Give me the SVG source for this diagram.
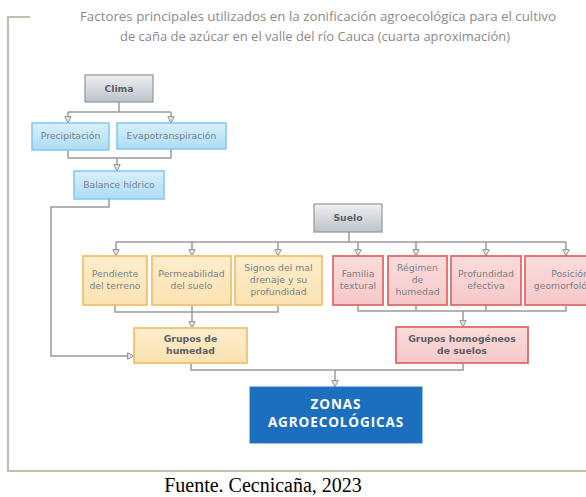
<svg xmlns="http://www.w3.org/2000/svg" width="586" height="497" viewBox="0 0 586 497">
<defs>
<linearGradient id="gGray" x1="0" y1="0" x2="0" y2="1"><stop offset="0" stop-color="#eef0f2"/><stop offset="1" stop-color="#bcc3ca"/></linearGradient>
<linearGradient id="gBlue" x1="0" y1="0" x2="0" y2="1"><stop offset="0" stop-color="#d9f0fc"/><stop offset="1" stop-color="#acdcf4"/></linearGradient>
<linearGradient id="gOrange" x1="0" y1="0" x2="0" y2="1"><stop offset="0" stop-color="#fdeecd"/><stop offset="1" stop-color="#fbe2b0"/></linearGradient>
<linearGradient id="gRed" x1="0" y1="0" x2="0" y2="1"><stop offset="0" stop-color="#fbdcdc"/><stop offset="1" stop-color="#f6c8c8"/></linearGradient>
<marker id="arr" viewBox="0 0 10 10" refX="9" refY="5" markerWidth="8" markerHeight="8" markerUnits="userSpaceOnUse" orient="auto">
<path d="M1,1 L9,5 L1,9 Z" fill="#e4e4e4" stroke="#8e8e8e" stroke-width="1.2"/>
</marker>
<style>
.gray{fill:url(#gGray);stroke:#8f979f;stroke-width:1.2}
.blue{fill:url(#gBlue);stroke:#80c8ee;stroke-width:1.5}
.orange{fill:url(#gOrange);stroke:#f2c070;stroke-width:1.8}
.red{fill:url(#gRed);stroke:#e06a6a;stroke-width:1.8}
.t{font-family:"DejaVu Sans",Verdana,sans-serif;font-size:9.3px;fill:#7a7f85;text-anchor:middle}
.b{font-family:"DejaVu Sans",Verdana,sans-serif;font-size:9.3px;font-weight:bold;fill:#5a5f66;text-anchor:middle}
.c{fill:none;stroke:#9a9a9a;stroke-width:1.5}
.a{fill:none;stroke:#9a9a9a;stroke-width:1.5;marker-end:url(#arr)}
.z{font-family:"Open Sans",sans-serif;font-size:13.5px;font-weight:bold;fill:#ffffff;text-anchor:middle;letter-spacing:0.9px}
</style>
</defs>
<rect width="586" height="497" fill="#ffffff"/>
<g id="frame">
<path d="M30,17 H8 V471 H586" fill="none" stroke="#b7c5a8" stroke-width="2.2"/>
</g>
<g id="title">
<text x="318" y="21" font-family="Open Sans, sans-serif" font-size="13" fill="#8a8a8a" text-anchor="middle" textLength="476" lengthAdjust="spacingAndGlyphs">Factores principales utilizados en la zonificación agroecológica para el cultivo</text>
<text x="315" y="41" font-family="Open Sans, sans-serif" font-size="13" fill="#8a8a8a" text-anchor="middle" textLength="390" lengthAdjust="spacingAndGlyphs">de caña de azúcar en el valle del río Cauca (cuarta aproximación)</text>
</g>
<g id="connectors">
<path class="c" d="M119,102 V112 M68,112 H171"/>
<path class="a" d="M68,112 V123"/>
<path class="a" d="M171,112 V123"/>
<path class="c" d="M68,150 V158 H171 V149"/>
<path class="a" d="M117,158 V171"/>
<path class="a" d="M109,199 V207 H51 V356 H134"/>
<path class="c" d="M349,232 V242 M116,242 H566"/>
<path class="a" d="M116,242 V256"/>
<path class="a" d="M192,242 V256"/>
<path class="a" d="M278,242 V256"/>
<path class="a" d="M358,242 V256"/>
<path class="a" d="M416,242 V256"/>
<path class="a" d="M486,242 V256"/>
<path class="a" d="M566,242 V256"/>
<path class="c" d="M115,305 V312 H278 V305 M192,305 V312"/>
<path class="a" d="M192,312 V328"/>
<path class="c" d="M358,305 V311 H566 V305 M416,305 V311 M486,305 V311"/>
<path class="a" d="M463,311 V327"/>
<path class="c" d="M191,363 V370 H463 V363"/>
<path class="a" d="M335,370 V387"/>
</g>
<g id="clima"><rect class="gray" x="85" y="75" width="68" height="27"/><text class="b" x="119" y="92">Clima</text></g>
<g id="precipitacion"><rect class="blue" x="32" y="123" width="77" height="27"/><text class="t" x="70.5" y="139">Precipitación</text></g>
<g id="evapotranspiracion"><rect class="blue" x="117" y="123" width="109" height="26"/><text class="t" x="171.5" y="139">Evapotranspiración</text></g>
<g id="balance"><rect class="blue" x="74" y="171" width="90" height="28"/><text class="t" x="119" y="188">Balance hídrico</text></g>
<g id="suelo"><rect class="gray" x="314" y="204" width="68" height="28"/><text class="b" x="348" y="221">Suelo</text></g>
<g id="pendiente"><rect class="orange" x="83" y="256" width="64" height="49"/><text class="t" x="115" y="277">Pendiente</text><text class="t" x="115" y="289">del terreno</text></g>
<g id="permeabilidad"><rect class="orange" x="152" y="256" width="79" height="49"/><text class="t" x="191.5" y="277">Permeabilidad</text><text class="t" x="191.5" y="289">del suelo</text></g>
<g id="signos"><rect class="orange" x="235" y="256" width="87" height="49"/><text class="t" x="278.5" y="271">Signos del mal</text><text class="t" x="278.5" y="283">drenaje y su</text><text class="t" x="278.5" y="295">profundidad</text></g>
<g id="familia"><rect class="red" x="333" y="256" width="50" height="49"/><text class="t" x="358" y="277">Familia</text><text class="t" x="358" y="289">textural</text></g>
<g id="regimen"><rect class="red" x="388" y="256" width="59" height="49"/><text class="t" x="417.5" y="271">Régimen</text><text class="t" x="417.5" y="283">de</text><text class="t" x="417.5" y="295">humedad</text></g>
<g id="profundidad"><rect class="red" x="451" y="256" width="70" height="49"/><text class="t" x="486" y="277">Profundidad</text><text class="t" x="486" y="289">efectiva</text></g>
<g id="posicion"><rect class="red" x="525" y="256" width="90" height="49"/><text class="t" x="570" y="277">Posición</text><text class="t" x="570" y="289">geomorfológica</text></g>
<g id="grupos-humedad"><rect class="orange" x="134" y="328" width="113" height="35"/><text class="b" x="190.5" y="342">Grupos de</text><text class="b" x="190.5" y="354">humedad</text></g>
<g id="grupos-suelos"><rect class="red" x="396" y="327" width="132" height="36"/><text class="b" x="462" y="342">Grupos homogéneos</text><text class="b" x="462" y="354">de suelos</text></g>
<g id="zonas"><rect x="250" y="387" width="172" height="56" fill="#1c6fbe" stroke="#2a7ac6" stroke-width="1"/>
<text class="z" x="336" y="409">ZONAS</text>
<text class="z" x="336" y="427">AGROECOLÓGICAS</text></g>
<g id="caption"><text x="263" y="492" font-family="Liberation Serif, serif" font-size="20" fill="#000000" text-anchor="middle">Fuente. Cecnicaña, 2023</text></g>
</svg>
